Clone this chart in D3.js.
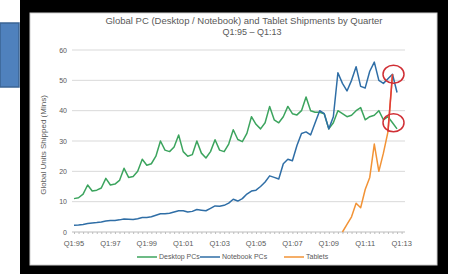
<!DOCTYPE html>
<html>
<head>
<meta charset="utf-8">
<script src="https://cdn.jsdelivr.net/npm/d3@7"></script>
<style>
  body { margin: 0; background: #fff; }
  text { font-family: "Liberation Sans", Arial, sans-serif; fill: #595959; }
</style>
</head>
<body>
<div class="viz"></div>
<script>
// quarters Q1:95 .. Q4:12, plus Q1:13 as the last category on the axis
const years = ['95','96','97','98','99','00','01','02','03','04','05','06','07','08','09','10','11','12']
const tickLabels = ['Q1:95','Q1:97','Q1:99','Q1:01','Q1:03','Q1:05','Q1:07','Q1:09','Q1:11','Q1:13']

// millions of units, one row per year
const desktop = [
  11, 11.3, 12.5, 15.5,
  13.5, 13.8, 14.5, 17.7,
  15.5, 15.8, 17, 21,
  18, 18.3, 20, 24,
  22, 22.5, 25, 30,
  27, 26.5, 28, 32,
  26.5, 25, 25.5, 30,
  26, 24.4, 26.5, 30.4,
  27, 26.5, 29, 33.7,
  30.5, 29.8, 32.5, 38,
  35.5, 34, 36, 41.4,
  37, 36, 38, 41.4,
  39, 38.6, 40, 44.5,
  40, 39.5, 39.5, 39,
  34, 36, 40, 39,
  38, 38.5, 40, 41,
  37, 38, 38.5, 40,
  37, 38, 36, 34
]
const notebook = [
  2.2, 2.3, 2.5, 2.8,
  3.0, 3.1, 3.3, 3.6,
  3.8, 3.8, 4.0, 4.3,
  4.2, 4.1, 4.4, 4.8,
  4.8, 5.0, 5.5, 6.0,
  6.0, 6.2, 6.6, 7.0,
  7.0, 6.6, 6.8, 7.4,
  7.2, 7.0, 7.8, 8.6,
  8.5, 8.8, 9.5, 10.8,
  10.2, 11, 12.5, 13.5,
  13.8, 15, 16.5, 18.5,
  18, 17.5, 22.5, 24,
  23.5, 28.5, 32.5, 33,
  32, 36, 40, 39,
  34, 38, 52.5, 49,
  46.5, 50, 54.5, 48,
  47.5, 53, 56, 50,
  49, 50.5, 52, 46
]
// tablets from Q4:09
const tabletStart = 'Q4:09'
const tablets = [0, 2.5, 5, 9.5, 8, 14, 18, 29, 20, 26, 33, 52]

const seriesNames = ['Desktop PCs', 'Notebook PCs', 'Tablets']
const colors = ['#3ca45e', '#2f6ea6', '#f29336']

const width = 450
const height = 274

const quarters = []
years.forEach(y => { for (let q = 1; q <= 4; q++) quarters.push(`Q${q}:${y}`) })
quarters.push('Q1:13')

const svg = d3.select('.viz')
  .append('svg')
  .attr('width', width)
  .attr('height', height)

// slide decoration + black screenshot frame
svg.append('rect').attr('x', 20).attr('y', 0).attr('width', 428).attr('height', 274).attr('fill', '#000')
svg.append('rect').attr('x', 30).attr('y', 13).attr('width', 407).attr('height', 252)
  .attr('fill', '#fff').attr('stroke', '#cfcfcf')
svg.append('rect').attr('x', 0).attr('y', 23).attr('width', 19).attr('height', 64)
  .attr('fill', '#4f81bd').attr('stroke', '#3b6494').attr('stroke-width', 1.5)

const x = d3.scalePoint().domain(quarters).range([74, 401.6])
const y = d3.scaleLinear().domain([0, 60]).range([232, 50])

// title
svg.append('text').text('Global PC (Desktop / Notebook) and Tablet Shipments by Quarter')
  .attr('x', 244).attr('y', 24).attr('text-anchor', 'middle').style('font-size', '9.5px')
svg.append('text').text('Q1:95 – Q1:13')
  .attr('x', 252).attr('y', 35).attr('text-anchor', 'middle').style('font-size', '9px')

// gridlines
svg.append('g')
  .selectAll('line')
  .data(y.ticks(6).filter(d => d > 0))
  .enter()
  .append('line')
  .attr('x1', 72).attr('x2', 405)
  .attr('y1', d => y(d)).attr('y2', d => y(d))
  .attr('stroke', '#d9d9d9')

// y axis labels
const yAxis = svg.append('g')
  .attr('transform', 'translate(70,0)')
  .call(d3.axisLeft(y).ticks(6).tickSize(0).tickPadding(3))
yAxis.select('.domain').remove()
yAxis.selectAll('text').style('font-size', '7px').attr('fill', '#595959')

svg.append('text').text('Global Units Shipped (Mlns)')
  .attr('transform', 'translate(46,145)rotate(-90)')
  .attr('text-anchor', 'middle').style('font-size', '8px')

// x axis with a small tick every quarter
const xAxis = svg.append('g')
  .attr('transform', `translate(0,${y(0)})`)
  .call(d3.axisBottom(x).tickValues(quarters).tickSize(2).tickFormat(''))
xAxis.select('.domain').attr('stroke', '#bdbdbd').attr('d', 'M72,0H405')
xAxis.selectAll('.tick line').attr('stroke', '#bdbdbd')

svg.append('g')
  .selectAll('text')
  .data(tickLabels)
  .enter()
  .append('text')
  .text(d => d)
  .attr('x', d => x(d))
  .attr('y', 245.5)
  .attr('text-anchor', 'middle')
  .style('font-size', '7.5px')

// lines
const line = d3.line()
  .x(d => x(d.q))
  .y(d => y(d.v))

const t0 = quarters.indexOf(tabletStart)
const series = [
  desktop.map((v, i) => ({ q: quarters[i], v })),
  notebook.map((v, i) => ({ q: quarters[i], v })),
  tablets.map((v, i) => ({ q: quarters[t0 + i], v }))
]

svg.append('g')
  .selectAll('path')
  .data(series)
  .enter()
  .append('path')
  .attr('d', line)
  .attr('fill', 'none')
  .attr('stroke', (d, i) => colors[i])
  .attr('stroke-width', 1.5)
  .attr('stroke-linejoin', 'round')

// red callouts where tablets cross PCs
const lastT = series[2].slice(-2)
svg.append('path')
  .attr('d', line(lastT))
  .attr('stroke', '#e03a3a').attr('stroke-width', 1.5).attr('fill', 'none')

const lastQ = lastT[1].q
svg.append('g')
  .selectAll('ellipse')
  .data([notebook[quarters.indexOf(lastQ)], desktop[quarters.indexOf(lastQ)]])
  .enter()
  .append('ellipse')
  .attr('cx', x(lastQ) + 1)
  .attr('cy', d => y(d))
  .attr('rx', 10.5)
  .attr('ry', 9)
  .attr('fill', 'none')
  .attr('stroke', '#d02f35')
  .attr('stroke-width', 1.5)

// legend
const legend = svg.append('g')
  .selectAll('g')
  .data(seriesNames)
  .enter()
  .append('g')
  .attr('transform', (d, i) => `translate(${[137, 200, 284][i]},257)`)

legend.append('line')
  .attr('x1', 0).attr('x2', 20)
  .attr('stroke', (d, i) => colors[i])
  .attr('stroke-width', 1.5)

legend.append('text')
  .text(d => d)
  .attr('x', 22).attr('y', 2.4)
  .style('font-size', '7px')
</script>
</body>
</html>
